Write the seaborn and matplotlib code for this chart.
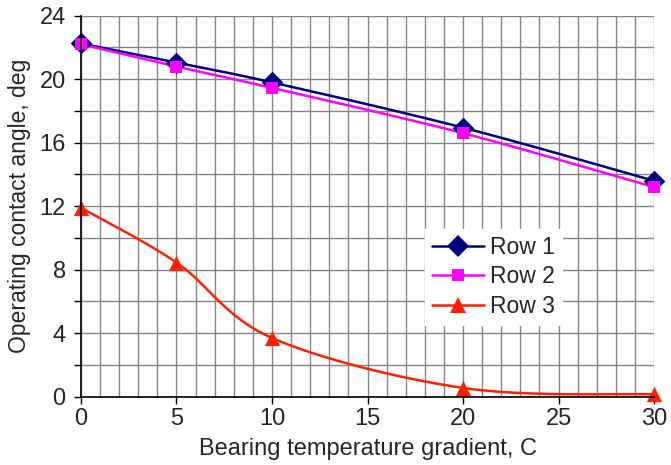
import numpy as np
import pandas as pd
import matplotlib
matplotlib.use('Agg')
import matplotlib.pyplot as plt
import seaborn as sns
from matplotlib.lines import Line2D
from matplotlib.ticker import MultipleLocator

# data
gradient = [0, 5, 10, 20, 30]
row1 = [22.25, 21.05, 19.8, 16.95, 13.6]
row2 = [22.2, 20.8, 19.45, 16.6, 13.2]
row3 = [11.9, 8.45, 3.7, 0.55, 0.15]
series_names = ['Row 1', 'Row 2', 'Row 3']
colors = ['#000080', '#FF00FF', '#FF2000']
markers = ['D', 's', '^']
marker_sizes = [11, 9, 11]


def smooth(xs, ys, n=40):
    # catmull-rom through the points, like the spreadsheet "smoothed line"
    px = np.array(xs, float) / 30.0 * 573
    py = np.array(ys, float) / 24.0 * 381
    pts = np.column_stack([px, py])
    pts = np.vstack([pts[0], pts, pts[-1]])
    out = []
    for i in range(1, len(pts) - 2):
        p0, p1, p2, p3 = pts[i - 1], pts[i], pts[i + 1], pts[i + 2]
        t = np.linspace(0, 1, n)[:, None]
        c = 0.5 * ((2 * p1) + (-p0 + p2) * t + (2 * p0 - 5 * p1 + 4 * p2 - p3) * t ** 2
                   + (-p0 + 3 * p1 - 3 * p2 + p3) * t ** 3)
        out.append(c)
    out = np.vstack(out)
    return out[:, 0] / 573 * 30.0, out[:, 1] / 381 * 24.0


sns.set_style('white')
plt.rcParams['font.family'] = ['Liberation Sans', 'DejaVu Sans']

fig = plt.figure(figsize=(6.71, 4.65), dpi=100)
ax = fig.add_axes([0.1207, 0.1469, 0.8540, 0.8193])

all_rows = [row1, row2, row3]
for name, vals, col, mk, ms in zip(series_names, all_rows, colors, markers, marker_sizes):
    sx, sy = smooth(gradient, vals)
    curve = pd.DataFrame({'x': sx, 'y': sy})
    sns.lineplot(data=curve, x='x', y='y', color=col, linewidth=1.8, sort=False,
                 estimator=None, ax=ax, zorder=3)
    pts = pd.DataFrame({'x': gradient, 'y': vals})
    sns.scatterplot(data=pts, x='x', y='y', color=col, marker=mk, s=ms ** 2,
                    edgecolor=col, linewidth=0, ax=ax, zorder=4, clip_on=False)

ax.set_xlim(0, 30)
ax.set_ylim(0, 24)
ax.xaxis.set_major_locator(MultipleLocator(5))
ax.xaxis.set_minor_locator(MultipleLocator(1))
ax.yaxis.set_major_locator(MultipleLocator(4))
ax.yaxis.set_minor_locator(MultipleLocator(2))
ax.grid(True, which='both', color='#858585', linewidth=1.0)
ax.set_axisbelow(True)

for s in ['top', 'right']:
    ax.spines[s].set_visible(False)
for s in ['left', 'bottom']:
    ax.spines[s].set_color('black')
    ax.spines[s].set_linewidth(1.2)
    ax.spines[s].set_zorder(5)

ax.tick_params(axis='both', which='major', direction='out', length=5, width=1,
               color='black', labelsize=17, bottom=True, left=True)
ax.tick_params(axis='x', which='major', pad=3)
ax.tick_params(axis='y', which='major', pad=6)
ax.tick_params(axis='y', which='minor', direction='out', length=5, width=1,
               color='black', left=True)
ax.tick_params(axis='x', which='minor', length=0)

ax.set_xlabel('Bearing temperature gradient, C', fontsize=17, labelpad=6)
ax.set_ylabel('Operating contact angle, deg', fontsize=16.5, labelpad=6)

handles = [Line2D([0], [0], color=c, marker=m, markersize=ms, linewidth=1.8,
                  markeredgewidth=0)
           for c, m, ms in zip(colors, markers, marker_sizes)]
leg = ax.legend(handles, series_names, loc='upper left', bbox_to_anchor=(0.58, 0.47),
                fontsize=16.5, frameon=True, facecolor='white', edgecolor='white',
                framealpha=1, fancybox=False, handlelength=2.3, handletextpad=0.25,
                labelspacing=0.28, borderpad=0.3)
leg.set_zorder(6)

fig.savefig('out.png', dpi=100)
